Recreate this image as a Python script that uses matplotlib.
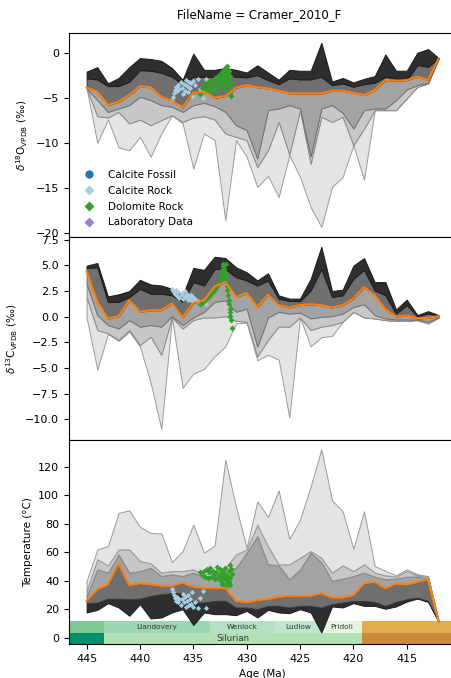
"""
Cramer_2010_F: d18O / d13C / temperature percentile fans through the Silurian
"""
import matplotlib
matplotlib.use('Agg')
import matplotlib.pyplot as plt
from matplotlib.lines import Line2D
from matplotlib.patches import Rectangle

plt.rcParams['font.family'] = ['DejaVu Sans']
plt.rcParams['font.size'] = 7.8

# age grid (Ma)
ages = [445, 444, 443, 442, 441, 440, 439, 438, 437, 436, 435, 434, 433, 432, 431, 430, 429,
        428, 427, 426, 425, 424, 423, 422, 421, 420, 419, 418, 417, 416, 415, 414, 413, 412]

# d18O envelopes (permil VPDB)
d18o_max = [-2.1, -1.6, -3.4, -2.8, -1.6, -0.6, -0.7, -0.9, -1.7, -3.0, -0.1, -1.9, -1.9, -1.7, -1.9, -2.2, -1.4,
            -2.2, -3.0, -1.9, -2.0, -2.0, 1.1, -3.2, -2.8, -3.3, -2.9, -2.6, -0.2, -2.0, -2.0, 0.0, 0.4, -0.6]
d18o_hi = [-2.85, -2.96, -3.70, -3.70, -3.22, -1.93, -2.0, -2.22, -2.67, -3.48, -2.67, -2.67, -2.67, -2.48, -2.67, -2.74, -2.48,
           -3.04, -3.48, -2.85, -2.96, -2.96, -2.67, -3.59, -3.41, -3.78, -3.48, -3.33, -2.67, -2.85, -3.04, -1.37, -1.56, -0.6]
d18o_med = [-3.85, -4.33, -5.81, -5.44, -4.70, -3.70, -3.85, -4.89, -5.33, -6.07, -4.44, -4.33, -5.0, -4.81, -3.89, -3.59, -3.85,
            -3.96, -4.22, -4.52, -4.52, -4.52, -4.52, -4.22, -4.22, -4.44, -4.70, -4.15, -3.04, -3.11, -3.04, -2.67, -3.04, -0.63]
d18o_lo1 = [-3.96, -5.26, -6.56, -6.19, -5.81, -4.89, -5.26, -5.81, -6.0, -6.56, -5.81, -5.56, -5.93, -6.56, -8.04, -8.59, -11.74,
            -6.37, -6.19, -5.81, -6.19, -11.48, -6.19, -5.81, -6.67, -8.41, -6.37, -6.19, -6.19, -5.26, -4.07, -3.59, -3.33, -0.63]
d18o_lo2 = [-3.96, -7.04, -7.19, -6.56, -7.85, -7.41, -8.04, -7.48, -6.93, -7.67, -7.19, -7.04, -7.41, -8.96, -9.33, -9.70, -12.67,
            -10.81, -7.67, -11.30, -6.37, -12.30, -7.11, -7.67, -7.11, -10.26, -8.41, -6.37, -6.37, -6.37, -5.07, -3.78, -3.41, -0.63]
d18o_min = [-3.96, -10.0, -7.41, -10.52, -10.81, -9.33, -11.55, -8.96, -6.93, -7.85, -12.85, -8.96, -9.70, -18.59, -9.70, -11.55, -14.89,
            -13.67, -16.0, -11.37, -13.78, -17.11, -19.33, -14.89, -13.78, -10.26, -14.07, -6.37, -6.37, -6.37, -5.07, -3.78, -3.41, -0.63]

# d13C envelopes (permil VPDB)
d13c_max = [4.98, 5.24, 1.99, 2.19, 2.51, 3.60, 3.15, 3.05, 2.73, 2.09, 4.76, 4.57, 5.85, 5.72, 4.82, 4.34, 3.54,
            4.24, 2.09, 1.77, 1.77, 3.70, 6.82, 2.51, 2.64, 4.98, 5.72, 3.38, 3.38, 0.71, 1.67, 0.16, 0.55, 0.16]
d13c_hi = [4.76, 4.82, 1.45, 1.45, 1.93, 2.73, 2.25, 2.25, 2.09, 1.45, 3.38, 3.05, 4.66, 4.66, 3.86, 3.54, 3.05,
           3.54, 1.77, 1.54, 1.54, 2.57, 4.66, 1.93, 2.09, 3.70, 4.57, 2.57, 2.09, 0.32, 1.13, 0.06, 0.32, 0.13]
d13c_med = [4.44, 1.45, -0.16, 0.06, 1.61, 0.48, 0.64, 0.64, 1.29, -0.06, 1.35, 1.61, 2.96, 3.38, 1.93, 2.32, 0.96,
            2.15, 1.13, 0.90, 1.13, 1.22, 1.13, 0.90, 1.13, 1.77, 2.89, 2.09, 0.71, 0.0, 0.13, -0.16, -0.10, 0.06]
d13c_lo1 = [3.22, 0.16, -0.80, -1.13, -0.32, -0.96, -0.80, -0.96, 0.06, -0.80, -0.06, 0.48, 1.45, 1.61, 0.48, 0.80, -2.89,
            -0.06, 0.48, 0.32, 0.39, -0.16, 0.0, 0.06, 0.32, 0.96, 1.22, 0.16, -0.16, -0.26, -0.26, -0.26, -0.48, -0.06]
d13c_lo2 = [1.93, -1.29, -1.61, -2.25, -1.29, -2.73, -1.93, -3.70, -0.06, -1.13, -0.32, -0.06, -0.06, 0.06, -0.39, -0.48, -3.86,
            -2.25, -0.96, -0.96, -0.06, -1.29, -0.96, -0.80, -0.48, 0.48, -0.06, -0.16, -0.32, -0.39, -0.39, -0.32, -0.64, -0.06]
d13c_min = [-0.06, -5.14, -1.67, -2.35, -1.45, -2.89, -6.43, -10.93, -0.1, -6.91, -5.53, -5.08, -3.86, -2.89, -0.64, -0.58, -4.24,
            -3.70, -4.18, -9.81, -0.06, -2.89, -1.99, -1.86, -0.48, 0.48, -0.06, -0.16, -0.32, -0.39, -0.39, -0.32, -0.64, -0.06]

# temperature envelopes (deg C)
t_max = [40.0, 62.0, 64.3, 87.6, 89.4, 77.8, 73.6, 73.2, 53.2, 60.9, 79.4, 59.7, 64.8, 124.7, 92.0, 63.2, 95.7,
         84.8, 103.4, 69.5, 82.9, 106.2, 132.2, 96.4, 88.7, 62.5, 88.7, 50.4, 47.0, 43.9, 48.1, 44.6, 43.4, 11.4]
t_hi2 = [33.0, 55.1, 50.9, 62.0, 62.0, 53.9, 52.3, 45.8, 46.9, 46.9, 48.1, 44.6, 45.8, 49.2, 58.5, 62.0, 79.4,
         64.3, 51.6, 51.6, 56.2, 60.9, 56.2, 45.8, 50.9, 46.9, 51.6, 45.8, 43.9, 43.0, 46.9, 43.9, 43.0, 11.4]
t_hi1 = [29.5, 48.1, 45.8, 58.5, 45.8, 46.9, 49.2, 43.4, 44.6, 43.4, 45.8, 43.0, 43.0, 46.9, 49.2, 59.7, 71.3,
         51.6, 50.9, 41.1, 48.1, 59.7, 53.2, 40.0, 41.6, 43.4, 45.8, 43.0, 41.1, 41.6, 43.0, 43.0, 41.6, 11.4]
t_med = [26.0, 34.1, 37.6, 52.3, 36.9, 38.3, 37.6, 36.5, 36.5, 38.8, 35.8, 35.1, 35.1, 35.1, 26.0, 24.9, 26.5,
         27.2, 28.8, 29.5, 29.5, 29.5, 31.4, 28.3, 28.3, 30.0, 38.3, 39.3, 34.8, 38.1, 37.4, 39.3, 41.1, 11.4]
t_lo = [24.4, 24.9, 27.6, 27.6, 27.2, 27.6, 29.5, 30.7, 31.4, 31.4, 24.9, 24.9, 26.0, 26.0, 21.4, 21.4, 20.2,
        22.5, 22.5, 21.4, 22.5, 22.5, 21.4, 23.7, 24.9, 26.0, 26.0, 25.3, 22.5, 25.3, 27.2, 28.3, 26.0, 11.4]
t_min = [17.9, 19.7, 24.4, 21.4, 15.6, 23.7, 13.7, 14.4, 17.9, 20.2, 9.1, 17.9, 16.7, 16.7, 16.0, 19.0, 14.4,
         19.7, 17.9, 17.4, 20.2, 17.9, 3.9, 22.1, 21.4, 24.4, 22.5, 22.5, 20.5, 22.1, 25.5, 27.6, 25.3, 11.4]

# calcite rock samples
cal_age = [437.0, 436.9, 436.8, 436.7, 436.6, 436.5, 436.4, 436.3, 436.2, 436.1, 436.0, 435.9, 435.8,
           435.7, 435.6, 435.5, 435.4, 435.3, 435.2, 435.1, 435.0, 434.8, 434.6, 434.4, 434.1, 433.8]
cal_d18o = [-5.3, -4.9, -4.5, -4.1, -3.8, -4.3, -3.6, -4.0, -3.3, -3.9, -4.6, -3.5, -4.2,
            -3.0, -3.7, -4.4, -3.2, -3.9, -3.4, -4.8, -3.1, -3.6, -2.9, -4.0, -5.0, -2.9]
cal_d13c = [2.7, 2.5, 2.4, 2.2, 2.6, 2.0, 2.4, 1.8, 2.1, 2.3, 1.7, 2.0, 2.5,
            1.9, 2.2, 1.6, 2.0, 1.8, 2.1, 1.5, 1.9, 1.7, 1.5, 1.4, 1.3, 1.2]
cal_temp = [34, 32, 30, 28, 26, 29, 25, 27, 23, 27, 31, 25, 29,
            22, 26, 30, 23, 27, 24, 32, 22, 25, 21, 28, 33, 21]

# dolomite rock samples
dol_age = [434.4, 434.2, 434.0, 433.9, 433.7, 433.6, 433.5, 433.4, 433.3, 433.2, 433.1, 433.0, 432.9, 432.8,
           432.7, 432.6, 432.5, 432.45, 432.4, 432.35, 432.3, 432.25, 432.2, 432.15, 432.1, 432.05, 432.0,
           431.95, 431.9, 431.85, 431.8, 431.75, 431.7, 431.65, 431.6, 431.6, 431.55, 431.5, 431.4, 431.9]
dol_d18o = [-4.6, -3.9, -4.3, -3.5, -4.1, -3.2, -3.8, -4.4, -3.0, -3.6, -4.0, -2.8, -3.4, -4.2,
            -2.6, -3.1, -3.7, -2.3, -2.9, -3.5, -2.1, -2.7, -3.3, -1.9, -2.5, -3.9, -1.7,
            -2.4, -3.0, -1.5, -2.2, -2.8, -3.6, -2.0, -4.5, -2.6, -3.2, -4.8, -3.9, -1.8]
dol_d13c = [1.2, 1.3, 1.5, 1.6, 1.8, 1.9, 2.0, 2.2, 2.3, 2.4, 2.6, 2.7, 2.9, 3.0,
            3.2, 3.3, 3.5, 3.7, 4.0, 4.3, 4.6, 4.9, 5.1, 5.0, 4.7, 4.4, 4.1,
            3.8, 3.4, 3.0, 2.6, 2.1, 1.6, 1.2, 0.8, 0.5, 0.1, -0.3, -1.1, 5.1]
dol_temp = [46, 44, 47, 43, 48, 42, 46, 49, 43, 47, 45, 41, 46, 50,
            42, 44, 48, 40, 45, 47, 38, 43, 46, 37, 42, 49, 36,
            41, 44, 38, 40, 43, 47, 39, 51, 37, 42, 48, 45, 41]

# geologic time scale
epoch_names = ['', 'Llandovery', 'Wenlock', 'Ludlow', 'Pridoli', '']
epoch_start = [450.0, 443.4, 433.4, 427.4, 423.0, 419.2]
epoch_end = [443.4, 433.4, 427.4, 423.0, 419.2, 405.0]
epoch_colors = ['#7FCA93', '#99D7B3', '#B3E1C2', '#BFE6CF', '#E6F5E1', '#E5AC4D']
period_names = ['', 'Silurian', '']
period_start = [450.0, 443.4, 419.2]
period_end = [443.4, 419.2, 405.0]
period_colors = ['#009270', '#B3E1B6', '#CB8C37']

fan_cols = ['#e4e4e4', '#c8c8c8', '#a3a3a3', '#6f6f6f', '#2e2e2e']
edge_cols = ['#9a9a9a', '#8a8a8a', '#707070', '#3a3a3a', '#1a1a1a']

fig = plt.figure(figsize=(4.51, 6.78), dpi=100)
ax1 = fig.add_axes([0.153, 0.6509, 0.8588, 0.3000])
ax2 = fig.add_axes([0.153, 0.3510, 0.8588, 0.2999], sharex=ax1)
ax3 = fig.add_axes([0.153, 0.0501, 0.8588, 0.3009], sharex=ax1)


def fan(ax, curves, cols, edges):
    for k in range(len(curves) - 1):
        ax.fill_between(ages, curves[k], curves[k + 1], facecolor=cols[k],
                        edgecolor=edges[k], linewidth=0.7, zorder=1)


fan(ax1, [d18o_min, d18o_lo2, d18o_lo1, d18o_med, d18o_hi, d18o_max], fan_cols, edge_cols)
ax1.plot(ages, d18o_med, color='#ff7f0e', lw=1.5, zorder=4)
ax1.scatter(cal_age, cal_d18o, marker='D', s=7, color='#a6cee3', zorder=3, linewidths=0)
ax1.scatter(dol_age, dol_d18o, marker='D', s=9, color='#33a02c', zorder=3, linewidths=0)

fan(ax2, [d13c_min, d13c_lo2, d13c_lo1, d13c_med, d13c_hi, d13c_max], fan_cols, edge_cols)
ax2.plot(ages, d13c_med, color='#ff7f0e', lw=1.5, zorder=4)
ax2.scatter(cal_age, cal_d13c, marker='D', s=7, color='#a6cee3', zorder=3, linewidths=0)
ax2.scatter(dol_age, dol_d13c, marker='D', s=9, color='#33a02c', zorder=3, linewidths=0)

fan(ax3, [t_min, t_lo, t_med, t_hi1, t_hi2, t_max], fan_cols[::-1], edge_cols[::-1])
ax3.plot(ages, t_med, color='#ff7f0e', lw=1.5, zorder=4)
ax3.scatter(cal_age, cal_temp, marker='D', s=7, color='#a6cee3', zorder=3, linewidths=0)
ax3.scatter(dol_age, dol_temp, marker='D', s=9, color='#33a02c', zorder=3, linewidths=0)

# time scale strip along the bottom of the temperature panel
tr = ax3.get_xaxis_transform()
for name, a0, a1, c in zip(epoch_names, epoch_start, epoch_end, epoch_colors):
    ax3.add_patch(Rectangle((a1, 0.056), a0 - a1, 0.058, transform=tr, facecolor=c,
                            edgecolor='none', zorder=0.5))
    if name:
        ax3.text((a0 + a1) / 2, 0.085, name, transform=tr, ha='center', va='center',
                 fontsize=5.3, color='#333333', zorder=0.6)
for name, a0, a1, c in zip(period_names, period_start, period_end, period_colors):
    ax3.add_patch(Rectangle((a1, 0.0), a0 - a1, 0.056, transform=tr, facecolor=c,
                            edgecolor='none', zorder=0.5))
    if name:
        ax3.text((a0 + a1) / 2, 0.027, name, transform=tr, ha='center', va='center',
                 fontsize=6.3, color='#333333', zorder=0.6)

ax1.set_xlim(446.65, 410.35)
ax1.set_ylim(-20.4, 2.15)
ax2.set_ylim(-12.0, 7.8)
ax3.set_ylim(-4.2, 138.6)
ax1.set_yticks([0, -5, -10, -15, -20])
ax2.set_yticks([7.5, 5.0, 2.5, 0.0, -2.5, -5.0, -7.5, -10.0])
ax3.set_yticks([0, 20, 40, 60, 80, 100, 120])
ax3.set_xticks([445, 440, 435, 430, 425, 420, 415])

for ax in (ax1, ax2):
    ax.tick_params(axis='x', bottom=False, labelbottom=False)
for ax in (ax1, ax2, ax3):
    ax.tick_params(labelsize=8)

ax1.set_ylabel(r'$\delta^{18}\mathrm{O}_{\mathrm{VPDB}}$ (‰)', fontsize=7.5)
ax2.set_ylabel(r'$\delta^{13}\mathrm{C}_{\mathrm{VPDB}}$ (‰)', fontsize=7.5)
ax3.set_ylabel('Temperature (°C)', fontsize=7.5)
ax3.set_xlabel('Age (Ma)', fontsize=7.5)

handles = [
    Line2D([0], [0], marker='o', linestyle='None', markersize=6, markerfacecolor='#1f78b4', markeredgecolor='none'),
    Line2D([0], [0], marker='D', linestyle='None', markersize=5.5, markerfacecolor='#a6cee3', markeredgecolor='none'),
    Line2D([0], [0], marker='D', linestyle='None', markersize=5.5, markerfacecolor='#33a02c', markeredgecolor='none'),
    Line2D([0], [0], marker='D', linestyle='None', markersize=5.5, markerfacecolor='#9a80cf', markeredgecolor='none'),
]
ax1.legend(handles, ['Calcite Fossil', 'Calcite Rock', 'Dolomite Rock', 'Laboratory Data'],
           loc='lower left', frameon=False, fontsize=7.5, labelspacing=0.55)

fig.text(0.575, 0.979, 'FileName = Cramer_2010_F', ha='center', va='center', fontsize=8.5)

fig.savefig('out.png', dpi=100)
